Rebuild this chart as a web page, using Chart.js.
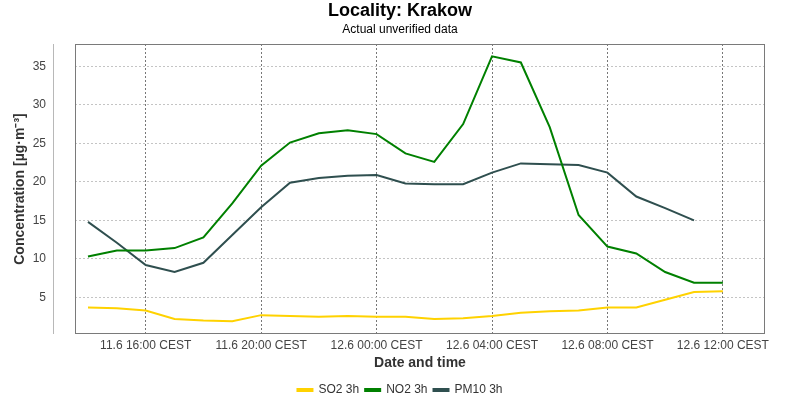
<!DOCTYPE html>
<html>
<head>
<meta charset="utf-8">
<script src="https://cdn.jsdelivr.net/npm/chart.js@4/dist/chart.umd.min.js"></script>
<style>
  html, body { margin: 0; padding: 0; background: #fff; }
  #wrap { width: 800px; height: 400px; }
</style>
</head>
<body>
<div id="wrap"><canvas id="chart"></canvas></div>
<script>
// hourly measurement times (3h averages)
const times = [
    '11.6 14:00 CEST', '11.6 15:00 CEST', '11.6 16:00 CEST', '11.6 17:00 CEST',
    '11.6 18:00 CEST', '11.6 19:00 CEST', '11.6 20:00 CEST', '11.6 21:00 CEST',
    '11.6 22:00 CEST', '11.6 23:00 CEST', '12.6 00:00 CEST', '12.6 01:00 CEST',
    '12.6 02:00 CEST', '12.6 03:00 CEST', '12.6 04:00 CEST', '12.6 05:00 CEST',
    '12.6 06:00 CEST', '12.6 07:00 CEST', '12.6 08:00 CEST', '12.6 09:00 CEST',
    '12.6 10:00 CEST', '12.6 11:00 CEST', '12.6 12:00 CEST'
];
const so2 = [3.7, 3.6, 3.3, 2.2, 2.0, 1.9, 2.7, 2.6, 2.5, 2.6, 2.5, 2.5,
             2.2, 2.3, 2.6, 3.0, 3.2, 3.3, 3.7, 3.7, 4.7, 5.7, 5.8];
const no2 = [10.3, 11.1, 11.1, 11.4, 12.8, 17.2, 22.1, 25.1, 26.3, 26.7, 26.2, 23.7,
             22.6, 27.5, 36.3, 35.5, 27.1, 15.7, 11.6, 10.7, 8.3, 6.9, 6.9];
const pm10 = [14.8, 12.1, 9.2, 8.3, 9.5, 13.1, 16.7, 19.9, 20.5, 20.8, 20.9, 19.8,
              19.7, 19.7, 21.2, 22.4, 22.3, 22.2, 21.2, 18.1, 16.6, 15.0, null];

const xTickLabels = ['11.6 16:00 CEST', '11.6 20:00 CEST', '12.6 00:00 CEST',
                     '12.6 04:00 CEST', '12.6 08:00 CEST', '12.6 12:00 CEST'];
const yTicks = [5, 10, 15, 20, 25, 30, 35];

const seriesNames = ['SO2 3h', 'NO2 3h', 'PM10 3h'];
const seriesColors = ['#ffd200', '#008000', '#2f4f4f'];

Chart.defaults.font.family = "'Liberation Sans', Arial, Helvetica, sans-serif";
Chart.defaults.font.size = 12;
Chart.defaults.color = '#444';

// gray frame round the plot and the detached y axis line
const frame = {
    id: 'frame',
    afterDatasetsDraw(chart) {
        const { ctx, chartArea: a } = chart;
        ctx.save();
        ctx.lineWidth = 1;
        ctx.strokeStyle = '#7a7a7a';
        ctx.strokeRect(a.left + 0.5, a.top + 0.5, a.width - 1, a.height - 1);
        ctx.strokeStyle = '#b8b8b8';
        ctx.beginPath();
        ctx.moveTo(a.left - 21.5, a.top);
        ctx.lineTo(a.left - 21.5, a.bottom);
        ctx.stroke();
        ctx.restore();
    }
};

function toPoints(values) {
    return values.map((v, i) => ({ x: i, y: v }));
}

const datasets = [so2, no2, pm10].map((values, i) => ({
    label: seriesNames[i],
    data: toPoints(values),
    borderColor: seriesColors[i],
    backgroundColor: seriesColors[i],
    borderWidth: 2,
    pointRadius: 0,
    pointHoverRadius: 0,
    tension: 0,
    spanGaps: false
}));

new Chart(document.getElementById('chart'), {
    type: 'line',
    data: { datasets: datasets },
    plugins: [frame],
    options: {
        responsive: true,
        maintainAspectRatio: false,
        animation: false,
        layout: { padding: { left: 0, right: 0, top: 0, bottom: -6 } },
        plugins: {
            title: {
                display: true,
                text: 'Locality: Krakow',
                color: '#000',
                font: { size: 18, weight: 'bold' },
                padding: { top: 0, bottom: 1 }
            },
            subtitle: {
                display: true,
                text: 'Actual unverified data',
                color: '#000',
                font: { size: 12 },
                padding: { top: 0, bottom: 7 }
            },
            legend: {
                position: 'bottom',
                labels: {
                    boxWidth: 15,
                    boxHeight: 2,
                    padding: 6,
                    color: '#333',
                    font: { size: 12 }
                }
            },
            tooltip: { enabled: false }
        },
        scales: {
            x: {
                type: 'linear',
                min: -0.45,
                max: 23.46,
                afterBuildTicks: scale => {
                    scale.ticks = xTickLabels.map(l => ({ value: times.indexOf(l) }));
                },
                afterFit: scale => { scale.height = 44; },
                ticks: {
                    padding: 4,
                    maxRotation: 0,
                    autoSkip: false,
                    color: '#444',
                    callback: value => times[value]
                },
                grid: { color: '#777', drawTicks: false },
                border: { display: false, dash: [2, 2] },
                title: {
                    display: true,
                    text: 'Date and time',
                    color: '#333',
                    font: { size: 14, weight: 'bold' },
                    padding: { top: 0, bottom: 6 }
                }
            },
            y: {
                min: 0.25,
                max: 37.9,
                afterBuildTicks: scale => {
                    scale.ticks = yTicks.map(v => ({ value: v }));
                },
                afterFit: scale => { scale.width = 75; },
                ticks: { padding: 29, color: '#444' },
                grid: { color: '#c4c4c4', drawTicks: false },
                border: { display: false, dash: [2, 2] },
                title: {
                    display: true,
                    text: 'Concentration [µg·m⁻³]',
                    color: '#333',
                    font: { size: 14, weight: 'bold' },
                    padding: { top: 12, bottom: 0 }
                }
            },
            // empty right margin so the legend stays centred on the page
            spacer: {
                position: 'right',
                min: 0,
                max: 1,
                afterFit: scale => { scale.width = 35; },
                ticks: { display: false },
                grid: { display: false },
                border: { display: false }
            }
        }
    }
});
</script>
</body>
</html>
